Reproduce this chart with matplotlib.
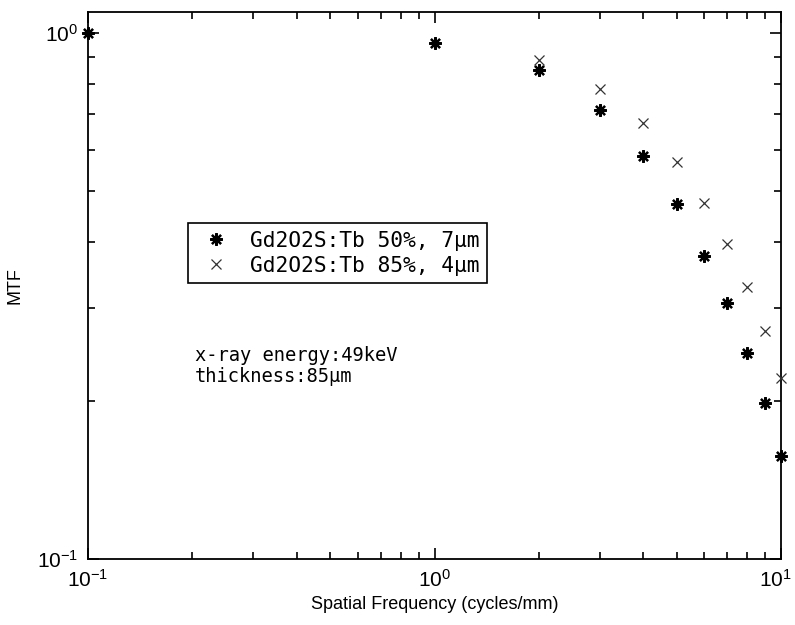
import numpy as np
import matplotlib
matplotlib.use("Agg")
import matplotlib.pyplot as plt
import matplotlib.transforms as mtransforms
from matplotlib.ticker import LogLocator, NullFormatter

# Fontes: rótulos tipo MATLAB, texto monoespaçado nas anotações
plt.rcParams['font.family'] = ['Liberation Sans', 'DejaVu Sans']
plt.rcParams['mathtext.fontset'] = 'custom'
plt.rcParams['mathtext.rm'] = 'Liberation Sans'
plt.rcParams['mathtext.it'] = 'Liberation Sans'
plt.rcParams['mathtext.bf'] = 'Liberation Sans'

# Dados
freq_50 = [0.1, 1, 2, 3, 4, 5, 6, 7, 8, 9, 10]
mtf_50 = [1.0, 0.957, 0.850, 0.714, 0.584, 0.473, 0.377, 0.307, 0.246, 0.198, 0.157]

freq_85 = [2, 3, 4, 5, 6, 7, 8, 9, 10]
mtf_85 = [0.889, 0.782, 0.674, 0.569, 0.475, 0.397, 0.329, 0.271, 0.221]

rotulos = ["Gd2O2S:Tb 50%, 7\u03bcm", "Gd2O2S:Tb 85%, 4\u03bcm"]
nota = "x-ray energy:49keV\nthickness:85\u03bcm"

fig = plt.figure(figsize=(7.95, 6.25), dpi=100)
ax = fig.add_axes([0.1107, 0.1056, 0.8717, 0.8752])

ax.plot(freq_50, mtf_50, ls='', marker=(8, 2, 0), ms=9, mew=1.6, color='k',
        label=rotulos[0], clip_on=False, zorder=3)
ax.plot(freq_85, mtf_85, ls='', marker='x', ms=7, mew=0.9, color='#333333',
        label=rotulos[1], clip_on=False, zorder=3)

ax.set_xscale('log')
ax.set_yscale('log')
ax.set_xlim(0.1, 10)
ax.set_ylim(0.1, 1.096)

ax.xaxis.set_major_locator(LogLocator(base=10, numticks=10))
ax.yaxis.set_major_locator(LogLocator(base=10, numticks=10))
ax.xaxis.set_minor_locator(LogLocator(base=10, subs=np.arange(2, 10), numticks=20))
ax.yaxis.set_minor_locator(LogLocator(base=10, subs=np.arange(2, 10), numticks=20))
ax.xaxis.set_minor_formatter(NullFormatter())
ax.yaxis.set_minor_formatter(NullFormatter())

ax.tick_params(which='both', direction='in', top=True, right=True, width=1.2, labelsize=15)
ax.tick_params(which='major', length=8, pad=7)
ax.tick_params(which='minor', length=5)
for s in ax.spines.values():
    s.set_linewidth(1.3)

ax.set_xlabel('Spatial Frequency (cycles/mm)', fontsize=13, labelpad=4)
ax.set_ylabel('MTF', fontsize=13, labelpad=10)

leg = ax.legend(loc='upper left', bbox_to_anchor=(0.144, 0.614), borderaxespad=0,
                prop={'family': 'DejaVu Sans Mono', 'size': 15.3}, fancybox=False,
                framealpha=1, edgecolor='k', handlelength=2.0, handletextpad=0.6,
                borderpad=0.35, labelspacing=0.25)
leg.get_frame().set_linewidth(1.2)

ax.text(0.154, 0.353, nota, transform=ax.transAxes, family='DejaVu Sans Mono',
        fontsize=13.5, va='center', linespacing=1.15)

# puxa o último rótulo do eixo x um pouco para dentro da figura
fig.canvas.draw()
for lab in ax.get_xticklabels():
    if lab.get_position()[0] >= 10:
        lab.set_transform(lab.get_transform() +
                          mtransforms.ScaledTranslation(-6 / 100, 0, fig.dpi_scale_trans))

fig.savefig('out.png', dpi=100)
